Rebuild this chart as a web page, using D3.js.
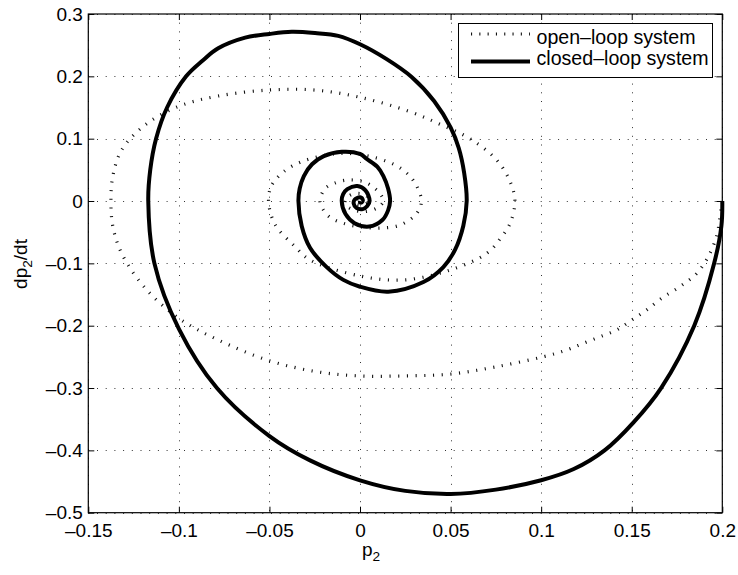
<!DOCTYPE html>
<html>
<head>
<meta charset="utf-8">
<script src="https://cdn.jsdelivr.net/npm/d3@7"></script>
<style>
  html, body { margin: 0; padding: 0; background: #fff; }
  svg { display: block; }
  text { font-family: "Liberation Sans", Arial, Helvetica, sans-serif; fill: #000; }
</style>
</head>
<body>
<svg id="chart" width="738" height="575"></svg>
<script>
// ---------- data ----------
const xTickValues = [-0.15, -0.1, -0.05, 0, 0.05, 0.1, 0.15, 0.2];
const xTickLabels = ["\u20130.15", "\u20130.1", "\u20130.05", "0", "0.05", "0.1", "0.15", "0.2"];
const yTickValues = [-0.5, -0.4, -0.3, -0.2, -0.1, 0, 0.1, 0.2, 0.3];
const yTickLabels = ["\u20130.5", "\u20130.4", "\u20130.3", "\u20130.2", "\u20130.1", "0", "0.1", "0.2", "0.3"];

const seriesNames = ["open\u2013loop system", "closed\u2013loop system"];

// open-loop trajectory [p2, dp2/dt]
const openLoop = [
  [0.2, 0], [0.1985, -0.03], [0.197, -0.055], [0.1923, -0.089], [0.1859, -0.116],
  [0.1766, -0.1374], [0.1665, -0.156], [0.1582, -0.1749], [0.15, -0.191],
  [0.1417, -0.2069], [0.1325, -0.2177], [0.1233, -0.2283], [0.1141, -0.239],
  [0.1012, -0.2498], [0.075, -0.266], [0.05, -0.2776], [0.025, -0.2805],
  [0, -0.2807], [-0.024, -0.2738], [-0.05, -0.2562], [-0.0783, -0.2229],
  [-0.1, -0.1882], [-0.1187, -0.1394], [-0.1316, -0.0839], [-0.1365, -0.04],
  [-0.1375, 0], [-0.1365, 0.039], [-0.1316, 0.0818], [-0.1187, 0.1219],
  [-0.1, 0.152], [-0.0783, 0.1684], [-0.05, 0.1781], [-0.025, 0.178],
  [0, 0.1664], [0.0276, 0.1433], [0.045, 0.122], [0.0607, 0.1], [0.0755, 0.0658],
  [0.083, 0.03], [0.0855, 0], [0.083, -0.035], [0.0775, -0.06], [0.07, -0.084],
  [0.0497, -0.1107], [0.024, -0.1267], [0, -0.1203], [-0.0276, -0.0945],
  [-0.0359, -0.073], [-0.0469, -0.0375], [-0.0505, 0], [-0.0488, 0.025],
  [-0.0414, 0.0487], [-0.0323, 0.063], [-0.02, 0.073], [-0.008, 0.0765],
  [0.0065, 0.071], [0.0211, 0.055], [0.0294, 0.033], [0.0339, 0],
  [0.031, -0.021], [0.0221, -0.0385], [0.011, -0.0435], [0, -0.0415],
  [-0.0092, -0.0358], [-0.0166, -0.0262], [-0.0202, -0.0144], [-0.0221, 0],
  [-0.0193, 0.02], [-0.0138, 0.029], [-0.0065, 0.0337], [0.0018, 0.031],
  [0.0065, 0.024], [0.011, 0.012], [0.0129, 0], [0.01, -0.01],
  [0.0028, -0.017], [-0.004, -0.014], [-0.008, -0.006], [-0.008, 0.002],
  [-0.005, 0.01], [0, 0.012], [0.004, 0.007], [0.005, 0], [0.002, -0.006],
  [-0.002, -0.005], [-0.003, 0], [-0.001, 0.004], [0.001, 0.002], [0, 0]
];

// closed-loop trajectory [p2, dp2/dt]
const closedLoop = [
  [0.2, 0], [0.1995, -0.04], [0.1955, -0.1], [0.1845, -0.2], [0.1662, -0.3],
  [0.151, -0.355], [0.135, -0.4], [0.118, -0.43], [0.1, -0.448], [0.075, -0.463],
  [0.05, -0.47], [0.025, -0.465], [0, -0.448], [-0.0276, -0.416], [-0.05, -0.377],
  [-0.079, -0.3], [-0.1, -0.205], [-0.1135, -0.1], [-0.1169, 0], [-0.1158, 0.05],
  [-0.1126, 0.1], [-0.1065, 0.15], [-0.096, 0.2], [-0.087, 0.225], [-0.0783, 0.2449],
  [-0.0634, 0.262], [-0.05, 0.268], [-0.0377, 0.2714], [-0.0248, 0.2695],
  [-0.012, 0.265], [0, 0.2515], [0.0145, 0.228], [0.0285, 0.199], [0.041, 0.16],
  [0.05, 0.118], [0.0545, 0.085], [0.0575, 0.045], [0.0589, 0],
  [0.057, -0.04], [0.0525, -0.078], [0.046, -0.106], [0.035, -0.13],
  [0.0156, -0.1455], [0, -0.1375], [-0.0092, -0.1265], [-0.0184, -0.106],
  [-0.0276, -0.075], [-0.0322, -0.04], [-0.034, 0], [-0.0333, 0.02],
  [-0.031, 0.04], [-0.0265, 0.059], [-0.02, 0.072], [-0.01, 0.079],
  [0, 0.0755], [0.0037, 0.0675], [0.0095, 0.055], [0.0129, 0.04],
  [0.0155, 0.02], [0.0166, 0], [0.0155, -0.015], [0.0125, -0.03],
  [0.005, -0.041], [-0.003, -0.0355], [-0.008, -0.021], [-0.0101, 0],
  [-0.0093, 0.011], [-0.007, 0.019], [-0.0015, 0.024], [0.003, 0.017],
  [0.0053, 0], [0.004, -0.008], [0.0015, -0.013], [-0.002, -0.011],
  [-0.0035, -0.004], [-0.003, 0.002], [0, 0.006], [0.0015, 0.002],
  [0.001, -0.002], [0, -0.002], [0, 0]
];

// ---------- layout ----------
const svg = d3.select("#chart");
const W = 738, H = 575;
const padL = 88.3, padR = 722.3, padT = 14, padB = 512.7;
const fontSize = 19;

svg.append("rect").attr("width", W).attr("height", H).attr("fill", "#fff");

const x = d3.scaleLinear().domain([-0.15, 0.2]).range([padL, padR]);
const y = d3.scaleLinear().domain([-0.5, 0.3]).range([padB, padT]);

// grid
const grid = svg.append("g").attr("stroke", "#333").attr("stroke-width", 1)
  .attr("stroke-dasharray", "1 7.7").attr("fill", "none");
xTickValues.forEach(v => {
  grid.append("line").attr("x1", Math.round(x(v)) + 0.5).attr("x2", Math.round(x(v)) + 0.5)
    .attr("y1", padT).attr("y2", padB);
});
yTickValues.forEach(v => {
  grid.append("line").attr("y1", Math.round(y(v)) + 0.5).attr("y2", Math.round(y(v)) + 0.5)
    .attr("x1", padL).attr("x2", padR);
});

// curves
const line = d3.line().x(d => x(d[0])).y(d => y(d[1])).curve(d3.curveCatmullRom.alpha(0.5));

svg.append("path").datum(openLoop).attr("d", line)
  .attr("fill", "none").attr("stroke", "#111").attr("stroke-width", 3.2)
  .attr("stroke-dasharray", "1.1 7.6");

svg.append("path").datum(closedLoop).attr("d", line)
  .attr("fill", "none").attr("stroke", "#000").attr("stroke-width", 4)
  .attr("stroke-linejoin", "round");

// axes
function styleAxis(g) {
  g.select(".domain").remove();
  g.selectAll(".tick line").attr("stroke", "#000");
  g.selectAll("text").attr("font-size", fontSize).attr("font-family", null).attr("fill", "#000");
}

svg.append("g").attr("transform", `translate(0,${padB})`)
  .call(d3.axisBottom(x).tickValues(xTickValues).tickFormat((d, i) => xTickLabels[i])
    .tickSize(-6).tickPadding(10.8))
  .call(styleAxis);

svg.append("g").attr("transform", `translate(${padL},0)`)
  .call(d3.axisLeft(y).tickValues(yTickValues).tickFormat((d, i) => yTickLabels[i])
    .tickSize(-6).tickPadding(5.5))
  .call(styleAxis);

svg.append("g").attr("transform", `translate(0,${padT})`)
  .call(d3.axisTop(x).tickValues(xTickValues).tickFormat("").tickSize(-6))
  .call(styleAxis);

svg.append("g").attr("transform", `translate(${padR},0)`)
  .call(d3.axisRight(y).tickValues(yTickValues).tickFormat("").tickSize(-6))
  .call(styleAxis);

// box
svg.append("rect").attr("x", padL).attr("y", padT)
  .attr("width", padR - padL).attr("height", padB - padT)
  .attr("fill", "none").attr("stroke", "#000").attr("stroke-width", 1.2);

// axis labels
const xl = svg.append("text").attr("x", 371).attr("y", 556)
  .attr("text-anchor", "middle").attr("font-size", fontSize);
xl.append("tspan").text("p");
xl.append("tspan").attr("font-size", fontSize * 0.72).attr("dy", 5).text("2");

const yl = svg.append("text")
  .attr("transform", "translate(27,264) rotate(-90)")
  .attr("text-anchor", "middle").attr("font-size", fontSize);
yl.append("tspan").text("dp");
yl.append("tspan").attr("font-size", fontSize * 0.72).attr("dy", 5).text("2");
yl.append("tspan").attr("dy", -5).text("/dt");

// legend
const lg = svg.append("g");
lg.append("rect").attr("x", 458.5).attr("y", 23.5).attr("width", 254).attr("height", 54)
  .attr("fill", "#fff").attr("stroke", "#000").attr("stroke-width", 1);
lg.append("line").attr("x1", 471).attr("x2", 530).attr("y1", 34).attr("y2", 34)
  .attr("stroke", "#111").attr("stroke-width", 3.2).attr("stroke-dasharray", "1.1 7.2");
lg.append("line").attr("x1", 471).attr("x2", 530).attr("y1", 61.5).attr("y2", 61.5)
  .attr("stroke", "#000").attr("stroke-width", 4);
lg.append("text").attr("x", 536.5).attr("y", 43.5).attr("font-size", 19.6).text(seriesNames[0]);
lg.append("text").attr("x", 536.5).attr("y", 65).attr("font-size", 19.6).text(seriesNames[1]);
</script>
</body>
</html>
